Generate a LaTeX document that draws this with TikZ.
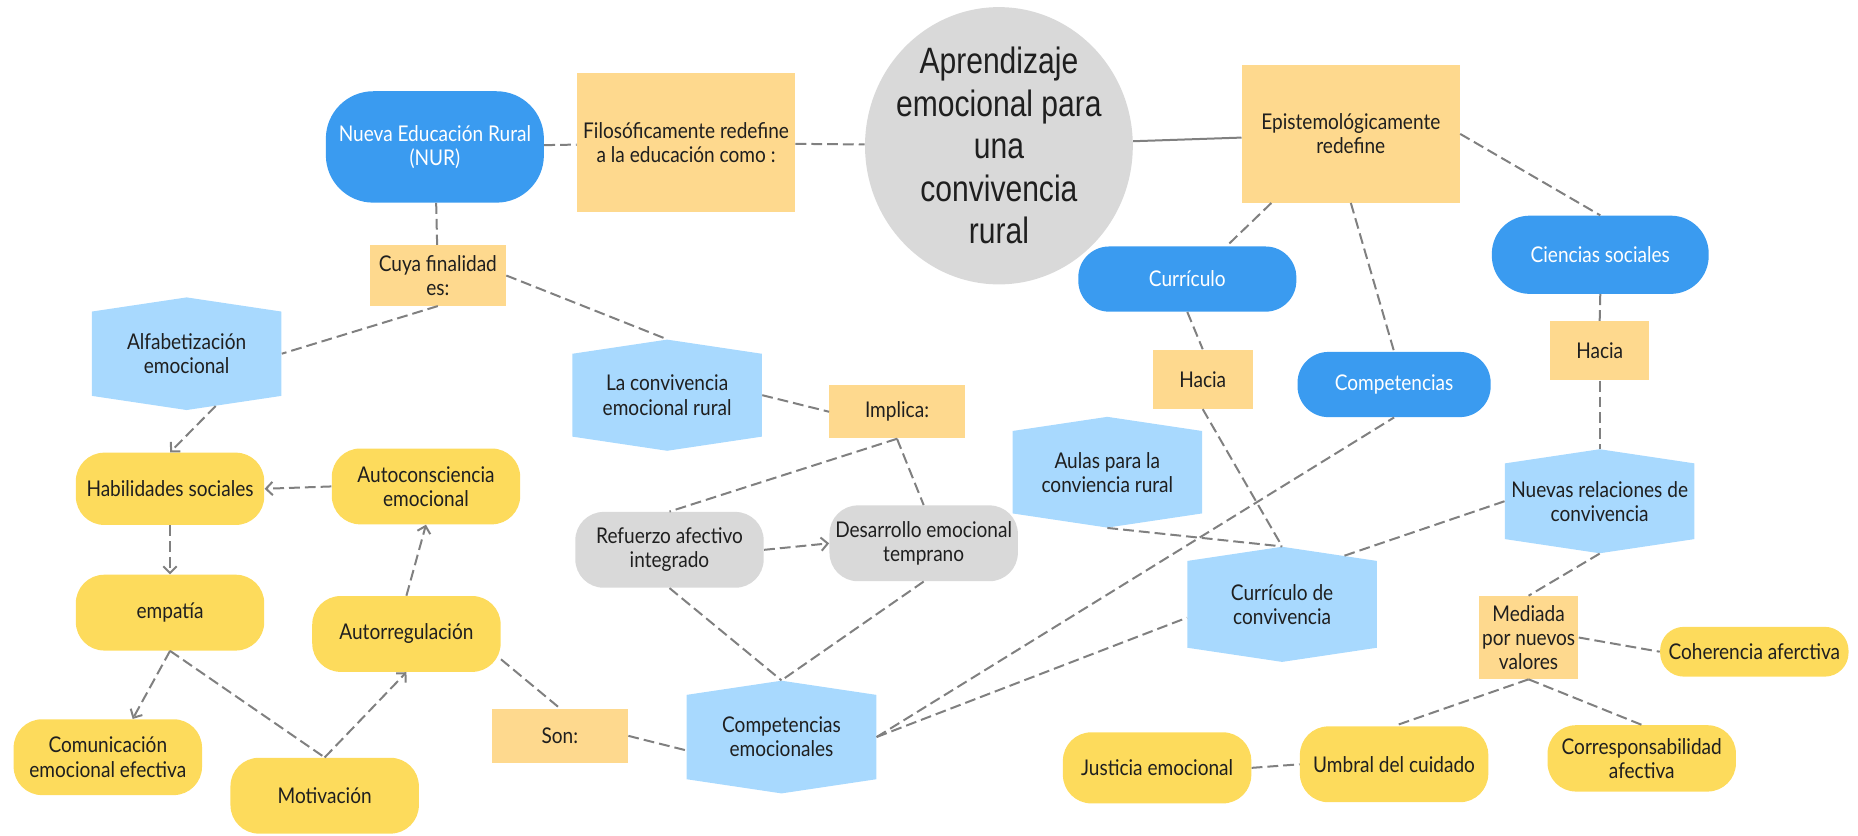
\documentclass[tikz,border=0pt]{standalone}
\usepackage{fontspec}
\setmainfont{Lato}[FakeStretch=0.88]
\newfontfamily\titlefont{Liberation Sans}[FakeStretch=0.82]
\usetikzlibrary{shapes.geometric,shapes.symbols,arrows.meta}
\definecolor{pillblue}{HTML}{3A9BF0}
\definecolor{hexblue}{HTML}{A8D9FE}
\definecolor{noteorange}{HTML}{FED98E}
\definecolor{blobyellow}{HTML}{FDDB5C}
\definecolor{blobgrey}{HTML}{D9D9D9}
\definecolor{linegrey}{HTML}{808080}
\definecolor{inkgrey}{HTML}{1F1F1F}
\tikzset{
  base/.style={align=center, text=inkgrey, inner sep=2pt, font=\fontsize{13}{14.5}\selectfont},
  bigcircle/.style={base, ellipse, fill=blobgrey, inner sep=-6pt, minimum width=56.5mm, minimum height=58.5mm, font=\titlefont\fontsize{22}{25.5}\selectfont},
  notebox/.style={base, fill=noteorange},
  darkpill/.style={base, fill=pillblue, text=white},
  hexbox/.style={base, signal, signal to=north and south, signal pointer angle=163, fill=hexblue, minimum width=40mm, minimum height=21.75mm},
  yblob/.style={base, fill=blobyellow, rounded corners=6mm, minimum width=39.75mm, minimum height=16mm},
  gblob/.style={yblob, fill=blobgrey},
  link/.style={draw=linegrey, line width=1.2pt, dash pattern=on 6.5pt off 3pt},
  flow/.style={link, -{Straight Barb[length=1.4mm,width=2.8mm]}},
}
\begin{document}
\begin{tikzpicture}[x=0.25mm, y=-0.25mm]
    \useasboundingbox (0,0) rectangle (1568,705);
    \node[bigcircle] (aprend) at (843,123) {Aprendizaje\\emocional para\\una\\convivencia\\rural};
    \node[darkpill, minimum width=46mm, minimum height=23.5mm, rounded corners=10mm] (nur) at (367,124) {Nueva Educación Rural\\(NUR)};
    \node[notebox, minimum width=46mm, minimum height=29.25mm] (filos) at (579,120.5) {Filosóficamente redefine\\a la educación como :};
    \node[notebox, minimum width=46mm, minimum height=29mm] (epist) at (1140,113) {Epistemológicamente\\redefine};
    \node[notebox, minimum width=28.75mm, minimum height=12.75mm] (cuya) at (369.5,232.5) {Cuya finalidad\\es:};
    \node[hexbox] (alfa) at (157.5,298.5) {Alfabetización\\emocional};
    \node[hexbox] (laconv) at (563,333.5) {La convivencia\\emocional rural};
    \node[notebox, minimum width=28.5mm, minimum height=11.25mm] (implica) at (757,347.5) {Implica:};
    \node[darkpill, minimum width=46mm, minimum height=13.75mm, rounded corners=6.5mm] (curric) at (1002,235.5) {Currículo};
    \node[darkpill, minimum width=45.75mm, minimum height=16.5mm, rounded corners=8mm] (ciencias) at (1350.5,215) {Ciencias sociales};
    \node[darkpill, minimum width=40.75mm, minimum height=13.75mm, rounded corners=6.5mm] (comp) at (1176.5,324.5) {Competencias};
    \node[notebox, minimum width=21mm, minimum height=12.5mm] (haciaL) at (1015,320) {Hacia};
    \node[notebox, minimum width=21mm, minimum height=12.5mm] (haciaR) at (1350,296) {Hacia};
    \node[hexbox] (aulas) at (934.5,398.5) {Aulas para la\\conviencia rural};
    \node[hexbox] (nuevas) at (1350,423) {Nuevas relaciones de\\convivencia};
    \node[hexbox] (currconv) at (1082,510) {Currículo de\\convivencia};
    \node[notebox, minimum width=21mm, minimum height=17.5mm] (mediada) at (1290,538) {Mediada\\por nuevos\\valores};
    \node[yblob, minimum height=10.5mm, rounded corners=5mm] (coheren) at (1480.5,550) {Coherencia aferctiva};
    \node[yblob, minimum height=14mm] (corresp) at (1385.5,640) {Corresponsabilidad\\afectiva};
    \node[yblob] (umbral) at (1176.5,645) {Umbral del cuidado};
    \node[yblob, minimum height=15mm] (justicia) at (976.5,648) {Justicia emocional};
    \node[gblob] (refuerzo) at (565,464) {Refuerzo afectivo\\integrado};
    \node[gblob] (desarr) at (779.5,458.5) {Desarrollo emocional\\temprano};
    \node[hexbox] (compem) at (659.5,622) {Competencias\\emocionales};
    \node[notebox, minimum width=28.75mm, minimum height=11.5mm] (son) at (472.5,621) {Son:};
    \node[yblob, minimum height=15.25mm] (habil) at (143.5,412.5) {Habilidades sociales};
    \node[yblob] (autoc) at (359.5,410.5) {Autoconsciencia\\emocional};
    \node[yblob] (empat) at (143.5,517) {empatía};
    \node[yblob] (autor) at (343,535) {Autorregulación};
    \node[yblob] (comun) at (91,639) {Comunicación\\emocional efectiva};
    \node[yblob] (motiv) at (274,671.5) {Motivación};

    \draw[link] (nur) -- (filos);
    \draw[link] (filos) -- (aprend);
    \draw[draw=linegrey, line width=1.2pt] (aprend) -- (epist);
    \draw[link] (nur) -- (cuya);
    \draw[link] (cuya.south) -- (alfa.east);
    \draw[link] (cuya.east) -- (laconv.north);
    \draw[flow] (alfa.-61) -- (habil.north);
    \draw[flow] (autoc.west) -- (habil.east);
    \draw[flow] (habil.south) -- (empat.north);
    \draw[flow] (empat.south) -- (comun.57);
    \draw[link] (empat.south) -- (motiv.north);
    \draw[flow] (motiv.north) -- (autor.south);
    \draw[flow] (autor.north) -- (autoc.south);
    \draw[link] (autor.-15) -- (son.north);
    \draw[link] (son.east) -- (compem.188);
    \draw[link] (laconv.east) -- (implica.west);
    \draw[link] (implica.south) -- (refuerzo.north);
    \draw[link] (implica.south) -- (desarr.north);
    \draw[flow] (refuerzo.east) -- (desarr.west);
    \draw[link] (refuerzo.south) -- (compem.north);
    \draw[link] (desarr.south) -- (compem.north);
    \draw[link] (compem.east) -- (comp.south);
    \draw[link] (compem.east) -- (currconv.188);
    \draw[link] (epist.221) -- (curric.40);
    \draw[link] (epist.south) -- (comp.north);
    \draw[link] (epist.east) -- (ciencias.north);
    \draw[link] (curric.south) -- (haciaL.north);
    \draw[link] (ciencias.south) -- (haciaR.north);
    \draw[link] (haciaL.south) -- (currconv.north);
    \draw[link] (aulas.south) -- (currconv.north);
    \draw[link] (haciaR.south) -- (nuevas.north);
    \draw[link] (nuevas.west) -- (currconv.38);
    \draw[link] (nuevas.south) -- (mediada.north);
    \draw[link] (mediada.east) -- (coheren.west);
    \draw[link] (mediada.south) -- (umbral.north);
    \draw[link] (mediada.south) -- (corresp.north);
    \draw[link] (justicia.east) -- (umbral.west);
\end{tikzpicture}
\end{document}
